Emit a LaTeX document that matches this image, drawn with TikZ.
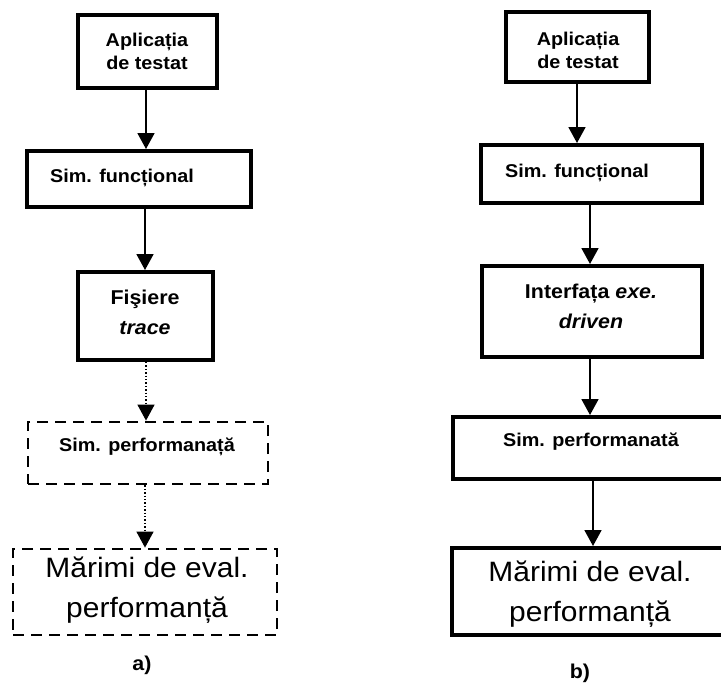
\documentclass[tikz,border=0pt]{standalone}
\usepackage{fontspec}
\setmainfont{Liberation Sans}[FakeStretch=1.07]
\usetikzlibrary{arrows.meta}
\tikzset{
  solidbox/.style={draw, line width=4pt, rectangle, inner sep=0pt},
  dashbox/.style={draw, line width=2.8pt, rectangle, inner sep=0pt, dash pattern=on 11pt off 7pt},
  lbl/.style={inner sep=0pt, align=center, font=\bfseries\fontsize{18.5}{23}\selectfont},
  lblbig/.style={inner sep=0pt, align=center, font=\bfseries\fontsize{20}{30}\selectfont},
  lblreg/.style={inner sep=0pt, align=center, font=\fontsize{28}{40}\selectfont},
  conn/.style={line width=1.8pt, -{Triangle[width=17pt,length=16pt]}},
  dotconn/.style={line width=1.4pt, dotted, -{Triangle[width=17pt,length=16pt]}},
}
\begin{document}
\begin{tikzpicture}[x=1pt,y=-1pt]
\useasboundingbox (0,0) rectangle (721,691);
\clip (0,0) rectangle (721,691);
% ---------- a) ----------
\node[solidbox, minimum width=139pt, minimum height=73pt] (a1) at (147.5,51.5) {};
\node[lbl] (a1t) at (147,51.5) {Aplicația\\de testat};
\node[solidbox, minimum width=224pt, minimum height=56pt] (a2) at (139,179) {};
\node[lbl] (a2t) at (122,178) {Sim. funcțional};
\node[solidbox, minimum width=135pt, minimum height=88pt] (a3) at (145.5,316) {};
\node[lblbig] (a3t) at (145,312) {Fişiere\\\textit{trace}};
\node[dashbox, minimum width=240pt, minimum height=62pt] (a4) at (148,453) {};
\node[lbl] (a4t) at (147,447) {Sim. performanață};
\node[dashbox, minimum width=264pt, minimum height=86pt] (a5) at (145,592) {};
\node[lblreg] (a5t) at (147,590) {Mărimi de eval.\\performanță};
\node[font=\bfseries\fontsize{20}{24}\selectfont, inner sep=0pt] (alab) at (142,665) {a)};
\draw[conn] (a1.south -| 146,0) -- (a2.north -| 146,0);
\draw[conn] (a2.south -| 145,0) -- (a3.north -| 145,0);
\draw[dotconn] (a3.south -| 146,0) -- (a4.north -| 146,0);
\draw[dotconn] (a4.south -| 145,0) -- (a5.north -| 145,0);
% ---------- b) ----------
\node[solidbox, minimum width=143pt, minimum height=70pt] (b1) at (577.5,47) {};
\node[lbl] (b1t) at (578,50.5) {Aplicația\\de testat};
\node[solidbox, minimum width=221pt, minimum height=58pt] (b2) at (591.5,174) {};
\node[lbl] (b2t) at (577,173) {Sim. funcțional};
\node[solidbox, minimum width=220pt, minimum height=91pt] (b3) at (592,311.5) {};
\node[lblbig] (b3t) at (591,306) {Interfața \textit{exe.}\\\textit{driven}};
\node[solidbox, minimum width=290pt, minimum height=62pt] (b4) at (598,448) {};
\node[lbl] (b4t) at (591,442) {Sim. performanată};
\node[solidbox, minimum width=292pt, minimum height=87pt] (b5) at (598,591.5) {};
\node[lblreg] (b5t) at (590,594) {Mărimi de eval.\\performanță};
\node[font=\bfseries\fontsize{20}{24}\selectfont, inner sep=0pt] (blab) at (580,673) {b)};
\draw[conn] (b1.south -| 577,0) -- (b2.north -| 577,0);
\draw[conn] (b2.south -| 590,0) -- (b3.north -| 590,0);
\draw[conn] (b3.south -| 590,0) -- (b4.north -| 590,0);
\draw[conn] (b4.south -| 593,0) -- (b5.north -| 593,0);
\end{tikzpicture}
\end{document}
